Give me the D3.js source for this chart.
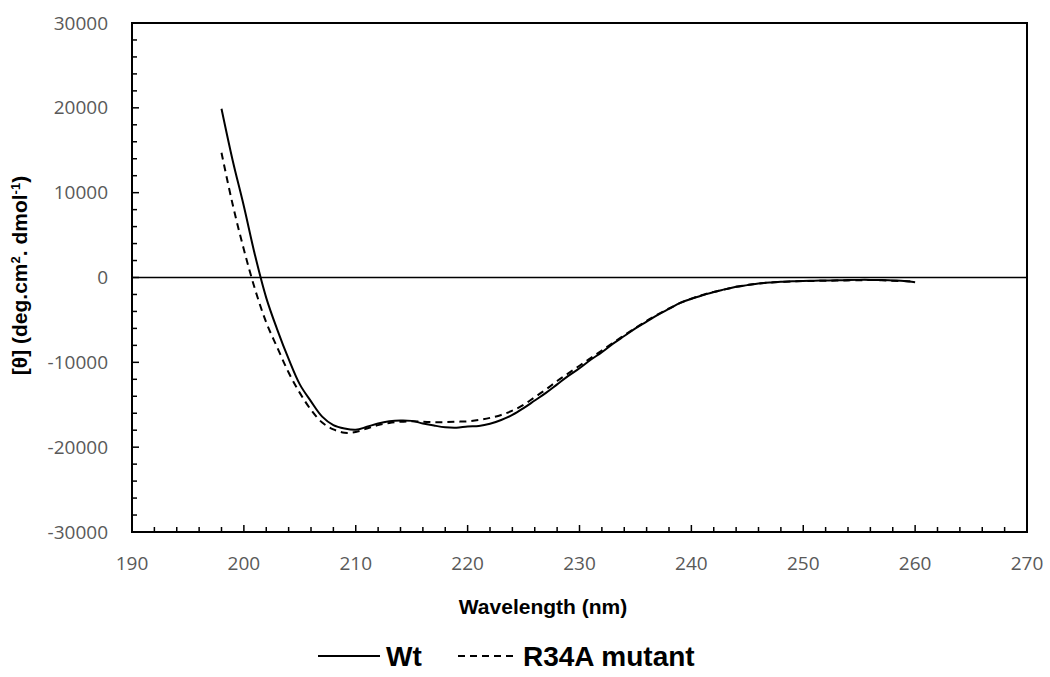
<!DOCTYPE html>
<html>
<head>
<meta charset="utf-8">
<script src="https://cdn.jsdelivr.net/npm/d3@7/dist/d3.min.js"></script>
<style>
  body { margin: 0; background: #fff; }
  svg { display: block; }
  .tick-label { font-family: "Open Sans", sans-serif; font-size: 19px; fill: #595959; }
  .axis-title { font-family: "Liberation Sans", Arial, sans-serif; font-weight: bold; font-size: 21px; fill: #000; }
  .legend-text { font-family: "Liberation Sans", Arial, sans-serif; font-weight: bold; font-size: 28px; fill: #000; }
</style>
</head>
<body>
<svg id="chart" width="1050" height="677"></svg>
<script>
// wavelength grid (nm), same for both series
const wavelengths = [198, 199, 200, 201, 202, 203, 204, 205, 206, 207, 208, 209, 210,
  211, 212, 213, 214, 215, 216, 217, 218, 219, 220, 221, 222, 223, 224, 225, 226, 227,
  228, 229, 230, 231, 232, 233, 234, 235, 236, 237, 238, 239, 240, 241, 242, 243, 244,
  245, 246, 247, 248, 249, 250, 251, 252, 253, 254, 255, 256, 257, 258, 259, 260];

const wtTheta = [19900, 13800, 8400, 2600, -2400, -6200, -9600, -12600, -14600, -16400,
  -17400, -17800, -17950, -17600, -17200, -16950, -16850, -16900, -17200, -17450, -17650,
  -17700, -17550, -17500, -17250, -16800, -16200, -15400, -14500, -13600, -12600, -11600,
  -10700, -9700, -8800, -7800, -6900, -6000, -5200, -4400, -3700, -3000, -2500, -2100,
  -1700, -1400, -1100, -900, -700, -600, -500, -450, -400, -380, -350, -330, -300, -280,
  -280, -300, -350, -400, -550];

const mutTheta = [14700, 8600, 3300, -1400, -5300, -8300, -11200, -13600, -15600, -17100,
  -17900, -18300, -18200, -17800, -17400, -17150, -17000, -16950, -17000, -17050, -17050,
  -17000, -16950, -16800, -16550, -16200, -15700, -15000, -14100, -13200, -12200, -11300,
  -10400, -9500, -8600, -7700, -6800, -5950, -5100, -4350, -3650, -3000, -2500, -2050,
  -1700, -1400, -1100, -900, -720, -600, -520, -460, -420, -400, -380, -360, -340, -320,
  -300, -320, -380, -420, -480];

const xTicks = [190, 200, 210, 220, 230, 240, 250, 260, 270];
const yTicks = [-30000, -20000, -10000, 0, 10000, 20000, 30000];

const seriesNames = ['Wt', 'R34A mutant'];

const svg = d3.select('#chart');
const margin = { left: 132, right: 23, top: 23, bottom: 145 };
const width = 1050 - margin.left - margin.right;
const height = 677 - margin.top - margin.bottom;

const x = d3.scaleLinear().domain([190, 270]).range([0, width]);
const y = d3.scaleLinear().domain([-30000, 30000]).range([height, 0]);

const g = svg.append('g').attr('transform', `translate(${margin.left},${margin.top})`);

// minor ticks every 2 nm / 2000, pointing inward
const xMinor = d3.range(190, 271, 2);
const yMinor = d3.range(-30000, 30001, 2000);

g.append('g').selectAll('line')
  .data(xMinor)
  .enter().append('line')
  .attr('x1', d => x(d)).attr('x2', d => x(d))
  .attr('y1', height).attr('y2', d => height - (d % 10 === 0 ? 7 : 5))
  .attr('stroke', '#000').attr('stroke-width', 1.5);

g.append('g').selectAll('line')
  .data(yMinor)
  .enter().append('line')
  .attr('y1', d => y(d)).attr('y2', d => y(d))
  .attr('x1', 0).attr('x2', d => (d % 10000 === 0 ? 7 : 5))
  .attr('stroke', '#000').attr('stroke-width', 1.5);

// zero line
g.append('line')
  .attr('x1', 0).attr('x2', width)
  .attr('y1', y(0)).attr('y2', y(0))
  .attr('stroke', '#000').attr('stroke-width', 1.5);

// frame
g.append('rect')
  .attr('width', width).attr('height', height)
  .attr('fill', 'none').attr('stroke', '#000').attr('stroke-width', 2);

// tick labels
g.append('g').selectAll('text')
  .data(xTicks)
  .enter().append('text')
  .attr('class', 'tick-label')
  .attr('x', d => x(d))
  .attr('y', height + 38)
  .attr('text-anchor', 'middle')
  .text(d => d);

g.append('g').selectAll('text')
  .data(yTicks)
  .enter().append('text')
  .attr('class', 'tick-label')
  .attr('x', -24)
  .attr('y', d => y(d))
  .attr('dy', '0.35em')
  .attr('text-anchor', 'end')
  .text(d => d);

// axis titles (Excel centres the x title on the chart area, not the plot)
svg.append('text')
  .attr('class', 'axis-title')
  .attr('x', 543)
  .attr('y', margin.top + height + 82)
  .attr('text-anchor', 'middle')
  .text('Wavelength (nm)');

const yTitle = svg.append('text')
  .attr('class', 'axis-title')
  .attr('transform', `translate(27,${margin.top + height / 2 - 2}) rotate(-90)`)
  .attr('text-anchor', 'middle');
yTitle.append('tspan').text('[θ] (deg.cm');
yTitle.append('tspan').attr('baseline-shift', 'super').attr('font-size', '13px').text('2');
yTitle.append('tspan').text('. dmol');
yTitle.append('tspan').attr('baseline-shift', 'super').attr('font-size', '13px').text('-1');
yTitle.append('tspan').text(')');

// lines
const line = d3.line()
  .x(d => x(d[0]))
  .y(d => y(d[1]))
  .curve(d3.curveCatmullRom);

const series = [
  { name: seriesNames[0], values: wavelengths.map((w, i) => [w, wtTheta[i]]), dash: null },
  { name: seriesNames[1], values: wavelengths.map((w, i) => [w, mutTheta[i]]), dash: '7,5' }
];

g.append('g').selectAll('path')
  .data(series)
  .enter().append('path')
  .attr('d', d => line(d.values))
  .attr('fill', 'none')
  .attr('stroke', '#000')
  .attr('stroke-width', 2)
  .attr('stroke-dasharray', d => d.dash);

// legend
const legendItems = [
  { name: seriesNames[0], x1: 318, x2: 380, dash: null },
  { name: seriesNames[1], x1: 458, x2: 517, dash: '7,5' }
];
const legendY = 656;
const legend = svg.append('g').selectAll('g')
  .data(legendItems)
  .enter().append('g');
legend.append('line')
  .attr('x1', d => d.x1).attr('x2', d => d.x2)
  .attr('y1', legendY).attr('y2', legendY)
  .attr('stroke', '#000').attr('stroke-width', 2)
  .attr('stroke-dasharray', d => d.dash);
legend.append('text')
  .attr('class', 'legend-text')
  .attr('x', d => d.x2 + 6)
  .attr('y', legendY)
  .attr('dy', '0.36em')
  .text(d => d.name);
</script>
</body>
</html>
